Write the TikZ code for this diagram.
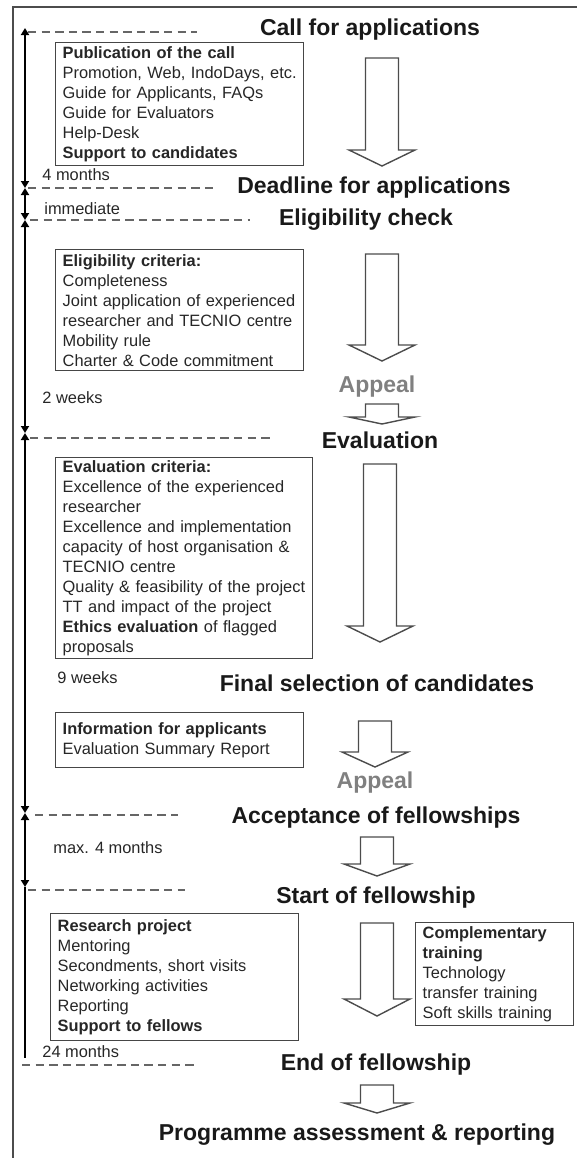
\documentclass[tikz,border=0pt]{standalone}
\usepackage{fontspec}
\setmainfont{Liberation Sans}
\usetikzlibrary{arrows.meta}
\definecolor{boxgray}{RGB}{70,70,70}
\definecolor{appealgray}{RGB}{128,128,128}
\tikzset{>=stealth,
  head/.style={font=\fontsize{11.5}{13}\selectfont\bfseries, text=black!90, inner sep=0pt},
  appeal/.style={head, text=appealgray},
  infobox/.style={draw=boxgray, line width=0.7pt, anchor=north west, align=left,
    inner xsep=3.5pt, inner ysep=0pt, font=\fontsize{8.2}{10}\selectfont, text=black!85},
  timelabel/.style={anchor=west, inner sep=0pt, font=\fontsize{8.2}{10}\selectfont, text=black!85},
  guide/.style={draw=black!60, line width=0.65pt, dash pattern=on 4.2pt off 2.6pt},
  tline/.style={line width=0.9pt},
  tick/.style={tline, {Triangle[length=3.5pt,width=4pt]}-{Triangle[length=3.5pt,width=4pt]}},
  blockarrow/.style={draw=black!70, line width=0.7pt, fill=white}
}
% hollow block arrow: centre x, top, head base, tip
\newcommand{\bigdown}[4]{%
  \draw[blockarrow] (#1-16.5,#2) -- (#1+16.5,#2) -- (#1+16.5,#3) -- (#1+33,#3)
    -- (#1,#4) -- (#1-33,#3) -- (#1-16.5,#3) -- cycle;}

\begin{document}
\begin{tikzpicture}[x=0.5pt,y=-0.5pt]
  \useasboundingbox (0,0) rectangle (577,1158);

  % frame (left and top only)
  \draw[line width=0.7pt, black!70] (13,1158) -- (13,7) -- (577,7);

  % time line
  \coordinate (t0) at (25,28);
  \coordinate (t1) at (25,188);
  \coordinate (t2) at (25,220);
  \coordinate (t3) at (25,433);
  \coordinate (t4) at (25,813);
  \coordinate (t5) at (25,887);
  \coordinate (t6) at (25,1058);
  \draw[tick] (t0) -- (t1);
  \draw[tick] (t1) -- (t2);
  \draw[tick] (t2) -- (t3);
  \draw[tick] (t3) -- (t4);
  \draw[tick] (t4) -- (t5);
  \draw[tline] (t5) -- (t6);

  % dashed guide lines
  \draw[guide] (28,32) -- (197,32);
  \draw[guide] (28,188) -- (215,188);
  \draw[guide] (30,220) -- (250,220);
  \draw[guide] (30,438) -- (270,438);
  \draw[guide] (35,815) -- (178,815);
  \draw[guide] (28,890) -- (185,890);
  \draw[guide] (22,1065) -- (195,1065);

  % durations
  \node[timelabel] (l4m) at (42,175) {4 months};
  \node[timelabel] (limm) at (44,209) {immediate};
  \node[timelabel] (l2w) at (42,398) {2 weeks};
  \node[timelabel] (l9w) at (57,678) {9 weeks};
  \node[timelabel] (lmax) at (53,848) {max. 4 months};
  \node[timelabel] (l24m) at (42,1052) {24 months};

  % stages
  \node[head] (call) at (370,30) {Call for applications};
  \node[head] (deadline) at (374,188) {Deadline for applications};
  \node[head] (elig) at (366,220) {Eligibility check};
  \node[appeal] (appeal1) at (377,387) {Appeal};
  \node[head] (eval) at (380,440) {Evaluation};
  \node[head] (final) at (377,683) {Final selection of candidates};
  \node[appeal] (appeal2) at (375,783) {Appeal};
  \node[head] (accept) at (376,818) {Acceptance of fellowships};
  \node[head] (start) at (376,898) {Start of fellowship};
  \node[head] (endf) at (376,1065) {End of fellowship};
  \node[head] (assess) at (357,1135) {Programme assessment \& reporting};

  % boxes
  \node[infobox, text width=117pt, minimum height=61.5pt] (pubbox) at (55,42)
    {\textbf{Publication of the call}\\ Promotion, Web, IndoDays, etc.\\ Guide for Applicants, FAQs\\
     Guide for Evaluators\\ Help-Desk\\ \textbf{Support to candidates}};
  \node[infobox, text width=117pt, minimum height=60.5pt] (eligbox) at (55,249)
    {\textbf{Eligibility criteria:}\\ Completeness\\ Joint application of experienced\\
     researcher and TECNIO centre\\ Mobility rule\\ Charter \& Code commitment};
  \node[infobox, text width=121.5pt, minimum height=100.5pt] (evalbox) at (55,457)
    {\textbf{Evaluation criteria:}\\ Excellence of the experienced\\ researcher\\
     Excellence and implementation\\ capacity of host organisation \&\\ TECNIO centre\\
     Quality \& feasibility of the project\\ TT and impact of the project\\
     \textbf{Ethics evaluation} of flagged\\ proposals};
  \node[infobox, text width=117pt, minimum height=27.5pt] (infobox) at (55,712)
    {\textbf{Information for applicants}\\ Evaluation Summary Report};
  \node[infobox, text width=117pt, minimum height=63.5pt] (resbox) at (50,913)
    {\textbf{Research project}\\ Mentoring\\ Secondments, short visits\\
     Networking activities\\ Reporting\\ \textbf{Support to fellows}};
  \node[infobox, text width=72pt, minimum height=51.5pt] (trainbox) at (415,922)
    {\textbf{Complementary}\\ \textbf{training}\\ Technology\\ transfer training\\ Soft skills training};

  % block arrows
  \bigdown{382}{58}{150}{166}
  \bigdown{382}{254}{345}{361}
  \bigdown{382}{404}{417}{424}
  \bigdown{380}{464}{626}{642}
  \bigdown{375}{721}{752}{767}
  \bigdown{377}{837}{864}{876}
  \bigdown{377}{923}{999}{1016}
  \bigdown{377}{1085}{1103}{1113}
\end{tikzpicture}
\end{document}
